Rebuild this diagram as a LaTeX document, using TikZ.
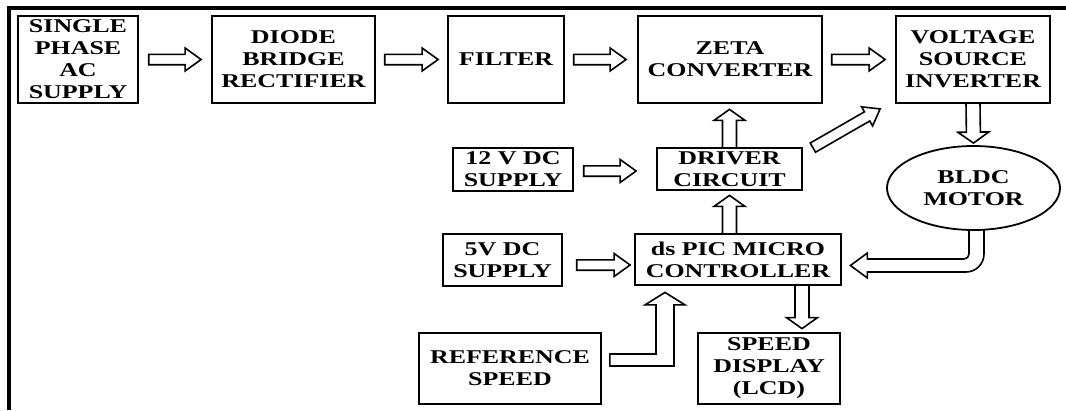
\documentclass[tikz,border=0pt]{standalone}
\usepackage{fontspec}
\setmainfont{Liberation Serif}[FakeStretch=1.33]
\usetikzlibrary{calc,shapes.geometric,backgrounds}
\newcommand\barrow[5]{% #1 tail, #2 tip, #3 shaft half width, #4 head half width, #5 head length
  \coordinate (bT) at (#1);
  \coordinate (bP) at (#2);
  \coordinate (bH) at ($(bP)!#5!(bT)$);
  \draw[blk] ($(bT)!#3!90:(bP)$) -- ($(bH)!#3!90:(bP)$) -- ($(bH)!#4!90:(bP)$) -- (bP)
    -- ($(bH)!#4!-90:(bP)$) -- ($(bH)!#3!-90:(bP)$) -- ($(bT)!#3!-90:(bP)$) -- cycle;}
\begin{document}
\begin{tikzpicture}[x=1pt,y=-1pt,
  box/.style={draw, line width=1.8pt, fill=white, inner sep=0pt, align=center,
    font=\bfseries\fontsize{19.5}{22}\selectfont},
  blk/.style={draw, line width=1.6pt, fill=white, line join=miter},
]
\useasboundingbox (0,0) rectangle (1066,410);
\draw[line width=4pt] (9.3,410) -- (9.3,7.5) -- (1066,7.5);

\node[box, minimum width=120, minimum height=87] (sac) at (78,59.5) {SINGLE\\PHASE\\AC\\SUPPLY};
\node[box, minimum width=163, minimum height=87] (dbr) at (293.5,59.5) {DIODE\\BRIDGE\\RECTIFIER};
\node[box, minimum width=116, minimum height=87] (fil) at (506,59.5) {FILTER};
\node[box, minimum width=184, minimum height=87] (zeta) at (730,59.5) {ZETA\\CONVERTER};
\node[box, minimum width=154, minimum height=87] (vsi) at (973,59.5) {VOLTAGE\\SOURCE\\INVERTER};
\node[box, minimum width=120, minimum height=43] (v12) at (513,169.5) {12 V DC\\SUPPLY};
\node[box, minimum width=145, minimum height=42] (drv) at (729.5,169) {DRIVER\\CIRCUIT};
\node[box, ellipse, minimum width=173, minimum height=84] (mot) at (973.5,188) {BLDC\\MOTOR};
\node[box, minimum width=119, minimum height=52] (v5) at (502.5,260) {5V DC\\SUPPLY};
\node[box, minimum width=206, minimum height=51] (pic) at (738,259.5) {ds PIC MICRO\\CONTROLLER};
\node[box, minimum width=182, minimum height=71] (ref) at (510,368.5) {REFERENCE\\SPEED};
\node[box, minimum width=142, minimum height=71] (spd) at (769,368.5) {SPEED\\DISPLAY\\(LCD)};

\begin{scope}[on background layer]
% horizontal arrows
\barrow{$(sac.east)+(9.8,0)$}{$(dbr.west)+(-10,0)$}{5.2pt}{11.5pt}{16pt}
\barrow{$(dbr.east)+(8.8,0)$}{$(fil.west)+(-9,0)$}{5.2pt}{11.5pt}{16pt}
\barrow{$(fil.east)+(8.8,0)$}{$(zeta.west)+(-11,0)$}{5.2pt}{11.5pt}{16pt}
\barrow{$(zeta.east)+(8.8,0)$}{$(vsi.west)+(-10,0)$}{5.2pt}{11.5pt}{16pt}
\barrow{$(v12.east)+(9.8,1.5)$}{$(drv.west)+(-20,2)$}{5.2pt}{11.5pt}{16pt}
\barrow{$(v5.east)+(13.8,5)$}{$(pic.west)+(-4,5.5)$}{5.2pt}{11.5pt}{16pt}
% vertical arrows
\barrow{$(vsi.south)+(0,-1)$}{$(mot.north)+(0,-2)$}{7pt}{15.5pt}{11pt}
\barrow{$(drv.north)+(0,1)$}{$(drv.north |- zeta.south)+(0,5.5)$}{7pt}{15.5pt}{11pt}
\barrow{$(drv.south |- pic.north)+(0,1)$}{$(drv.south)+(0,4.5)$}{7pt}{15.5pt}{11pt}
\barrow{$(spd.north |- pic.south)+(33,-1)$}{$(spd.north)+(33,-3.5)$}{7pt}{15.5pt}{11pt}
% diagonal arrow
\barrow{$(drv.north east)+(10,0.5)$}{$(vsi.south west)+(-15,5)$}{5.3pt}{11pt}{15pt}
% motor feedback
\draw[blk] let \p1=(mot.south), \p2=(pic.east) in
  (\x1-4.5pt,\y1+1pt) -- (\x1-4.5pt,\y2+5.5pt) arc[start angle=0,end angle=-90,radius=5pt]
  -- (\x2+25.5pt,\y2+0.5pt) -- (\x2+25.5pt,\y2+6.5pt) -- (\x2+8.5pt,\y2-6pt)
  -- (\x2+25.5pt,\y2-18.5pt) -- (\x2+25.5pt,\y2-12.5pt)
  -- (\x1-7.5pt,\y2-12.5pt) arc[start angle=270,end angle=360,radius=18pt]
  -- (\x1+10.5pt,\y1+1pt) -- cycle;
% reference speed
\draw[blk] let \p1=(ref.east), \p2=(pic.south) in
  (\x1+8pt,\y1+14.5pt) -- (\x2-82pt,\y1+14.5pt) -- (\x2-82pt,\y2-19pt)
  -- (\x2-93pt,\y2-19pt) -- (\x2-73pt,\y2-6.5pt) -- (\x2-53pt,\y2-19pt)
  -- (\x2-64pt,\y2-19pt) -- (\x2-64pt,\y1+2.5pt) -- (\x1+8pt,\y1+2.5pt) -- cycle;
\end{scope}
\end{tikzpicture}
\end{document}
